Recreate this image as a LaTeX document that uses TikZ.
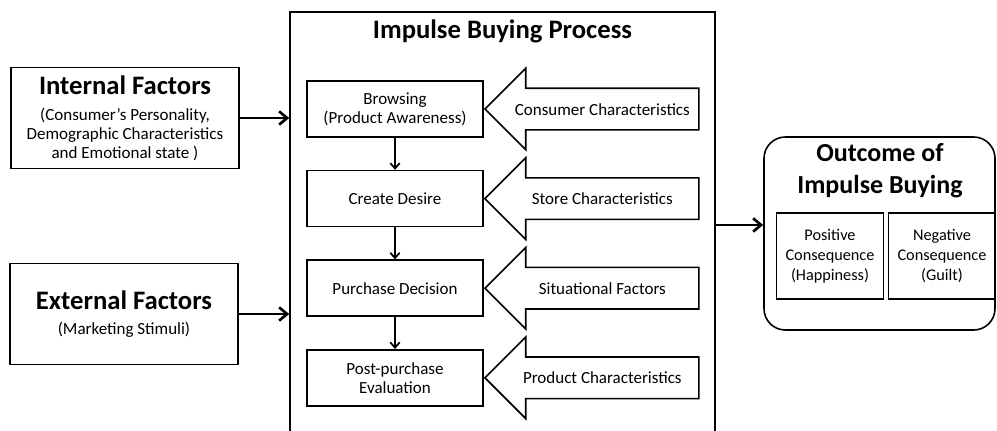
\documentclass[tikz,border=0pt]{standalone}
\usepackage{fontspec}
\setmainfont{Carlito}
\usetikzlibrary{arrows.meta,shapes.arrows,positioning}

\tikzset{
  box/.style={draw,line width=1.2pt,align=center,inner sep=2pt,
    font=\fontsize{12.75}{14.25}\selectfont},
  stepbox/.style={box,minimum width=132pt,minimum height=42pt},
  factorbox/.style={box,minimum width=171pt,minimum height=76pt},
  resultbox/.style={box,minimum width=80pt,minimum height=64.5pt,
    font=\fontsize{12.2}{15}\selectfont},
  bigarrow/.style={single arrow,draw,line width=1.2pt,shape border rotate=180,
    single arrow tip angle=90,single arrow head extend=15pt,
    minimum height=160.5pt,minimum width=60pt,
    text height=10pt,text depth=1pt,inner ysep=9.5pt,inner xsep=0pt,
    font=\fontsize{12.75}{14}\selectfont},
  link/.style={-{Straight Barb[length=6pt,width=10pt]},line width=2pt},
  steplink/.style={-{Straight Barb[length=4pt,width=7pt]},line width=1.3pt},
}

\begin{document}
\begin{tikzpicture}[x=0.75pt,y=-0.75pt]
  \useasboundingbox (0,0) rectangle (997,430);

  % the process frame runs past the bottom edge
  \node[draw,line width=1.2pt,minimum width=318.75pt,minimum height=325pt]
    (process) at (502.5,228.5) {};
  \node[font=\fontsize{20}{22}\selectfont\bfseries] (ptitle) at (502.5,31)
    {Impulse Buying Process};

  % steps of the process
  \node[stepbox] (browse) at (395,109) {Browsing\\(Product Awareness)};
  \node[stepbox,below=24pt of browse] (desire) {Create Desire};
  \node[stepbox,below=24pt of desire] (decision) {Purchase Decision};
  \node[stepbox,below=24pt of decision] (post) {Post-purchase\\Evaluation};
  \draw[steplink] (browse) -- (desire);
  \draw[steplink] (desire) -- (decision);
  \draw[steplink] (decision) -- (post);

  % influences pushing on each step
  \node[bigarrow,anchor=tip] (consumer) at (browse.east) {Consumer Characteristics};
  \node[bigarrow,anchor=tip] (store) at (desire.east) {Store Characteristics};
  \node[bigarrow,anchor=tip] (situation) at (decision.east) {Situational Factors};
  \node[bigarrow,anchor=tip] (product) at (post.east) {Product Characteristics};

  % factors on the left
  \node[factorbox] (internal) at (125,118)
    {{\fontsize{20}{22}\selectfont\bfseries Internal Factors}\\[5pt]
     (Consumer’s Personality,\\Demographic Characteristics\\and Emotional state )};
  \node[factorbox] (external) at (124,314)
    {{\fontsize{20}{22}\selectfont\bfseries External Factors}\\[4pt]
     (Marketing Stimuli)};
  \draw[link] (internal.east) -- (internal.east -| process.west);
  \draw[link] (external.east) -- (external.east -| process.west);

  % outcome on the right
  \node[draw,line width=1.2pt,rounded corners=16pt,minimum width=173.25pt,
    minimum height=144.75pt] (outcome) at (879.5,233.5) {};
  \node[font=\fontsize{19.5}{24}\selectfont\bfseries,align=center] (otitle)
    at (880,171) {Outcome of\\Impulse Buying};
  \node[resultbox] (positive) at (830,256) {Positive\\Consequence\\(Happiness)};
  \node[resultbox] (negative) at (942,256) {Negative\\Consequence\\(Guilt)};
  \coordinate (outin) at ([yshift=6.4pt]outcome.west);
  \draw[link] (outin -| process.east) -- (outin);
\end{tikzpicture}
\end{document}
